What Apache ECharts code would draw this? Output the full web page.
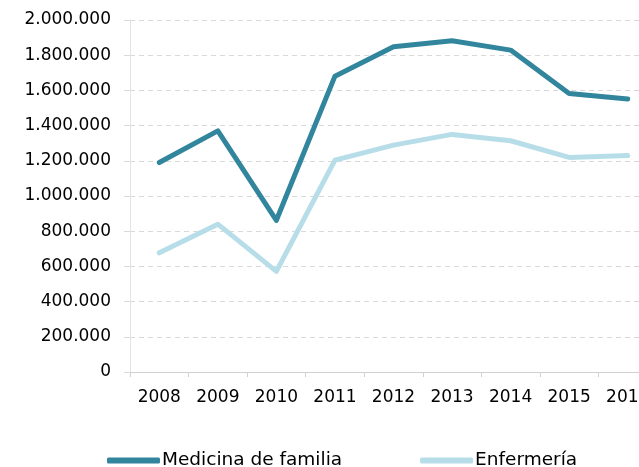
<!DOCTYPE html>
<html>
<head>
<meta charset="utf-8">
<script src="https://cdn.jsdelivr.net/npm/echarts@6/dist/echarts.min.js"></script>
<style>
html,body{margin:0;padding:0;background:#fff;overflow:hidden;width:639px;height:467px;}
#chart{width:660px;height:467px;}
</style>
</head>
<body>
<div id="chart"></div>
<script>
const years = ['2008','2009','2010','2011','2012','2013','2014','2015','2016'];
const medicinaFamilia = [1190000, 1370000, 862000, 1681000, 1848000, 1882000, 1829000, 1583000, 1551000];
const enfermeria = [677000, 840000, 572000, 1204000, 1289000, 1350000, 1314000, 1219000, 1230000];
const seriesNames = ['Medicina de familia', 'Enfermería'];

function fmt(v) {
  return String(Math.round(v)).replace(/\B(?=(\d{3})+(?!\d))/g, '.');
}

const chart = echarts.init(document.getElementById('chart'), null, {renderer: 'canvas'});
const FONT = 'DejaVu Sans';
chart.setOption({
  animation: false,
  backgroundColor: '#ffffff',
  textStyle: {fontFamily: FONT},
  grid: {left: 130, right: 3, top: 20, bottom: 95, containLabel: false},
  legend: {
    data: seriesNames,
    left: 102,
    top: 446,
    icon: 'roundRect',
    itemWidth: 53,
    itemHeight: 6,
    itemGap: 78,
    textStyle: {fontFamily: FONT, fontSize: 18.5, color: '#000', padding: [0, 0, 0, -3]}
  },
  xAxis: {
    type: 'category',
    data: years,
    boundaryGap: true,
    axisLine: {show: true, lineStyle: {color: '#D0D0D0', width: 1}},
    axisTick: {show: true, length: 5, alignWithLabel: false, lineStyle: {color: '#D0D0D0'}},
    axisLabel: {fontFamily: FONT, fontSize: 17, color: '#000', margin: 17, interval: 0}
  },
  yAxis: {
    type: 'value',
    min: 0,
    max: 2000000,
    interval: 200000,
    axisLine: {show: true, lineStyle: {color: '#E3E3E3', width: 1}},
    axisTick: {show: true, length: 6, lineStyle: {color: '#D9D9D9'}},
    splitLine: {show: true, lineStyle: {color: '#D9D9D9', type: [5, 4], width: 1}},
    axisLabel: {fontFamily: FONT, fontSize: 17, color: '#000', margin: 19, formatter: fmt}
  },
  series: [
    {
      name: seriesNames[0],
      type: 'line',
      data: medicinaFamilia,
      symbol: 'none',
      color: '#31859C',
      lineStyle: {width: 5, color: '#31859C', cap: 'round', join: 'round'},
      itemStyle: {color: '#31859C'}
    },
    {
      name: seriesNames[1],
      type: 'line',
      data: enfermeria,
      symbol: 'none',
      color: '#B7DEE8',
      lineStyle: {width: 5, color: '#B7DEE8', cap: 'round', join: 'round'},
      itemStyle: {color: '#B7DEE8'},
      z: 1
    }
  ]
});
</script>
</body>
</html>
